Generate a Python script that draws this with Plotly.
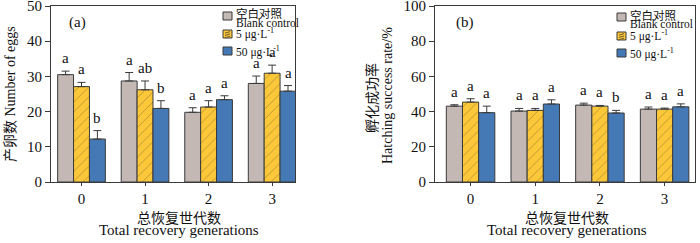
import plotly.graph_objects as go

generations = [0, 1, 2, 3]
tick_labels = ["0", "1", "2", "3"]
series_names = ["空白对照 Blank control", "5 μg·L<sup>-1</sup>", "50 μg·L<sup>-1</sup>"]
legend_lines = [["空白对照", "Blank control"], ["5 μg·L<sup>-1</sup>"], ["50 μg·L<sup>-1</sup>"]]

# Panel (a): number of eggs
eggs_control = [30.5, 28.7, 19.8, 28.0]
eggs_control_err = [1.0, 2.4, 1.3, 2.1]
eggs_5 = [27.1, 26.2, 21.3, 30.9]
eggs_5_err = [1.2, 2.5, 1.8, 2.3]
eggs_50 = [12.2, 20.9, 23.4, 25.8]
eggs_50_err = [2.4, 2.2, 1.1, 1.6]
eggs_letters_control = ["a", "a", "a", "a"]
eggs_letters_5 = ["a", "ab", "a", "a"]
eggs_letters_50 = ["b", "b", "a", "a"]

# Panel (b): hatching success rate
hatch_control = [43.1, 40.3, 43.7, 41.4]
hatch_control_err = [0.8, 1.5, 1.1, 1.2]
hatch_5 = [45.4, 40.7, 43.1, 41.4]
hatch_5_err = [1.9, 1.1, 0.4, 0.6]
hatch_50 = [39.4, 44.3, 39.2, 42.7]
hatch_50_err = [3.7, 2.4, 1.5, 1.7]
hatch_letters_control = ["a", "a", "a", "a"]
hatch_letters_5 = ["a", "a", "a", "a"]
hatch_letters_50 = ["a", "a", "b", "a"]

FONT = "Liberation Serif, Noto Sans CJK SC"
LINE = "#3a3a3a"
TXT = "#111"
colors = ["#c3b8b4", "#fcc83a", "#4479b6"]
HATCH = "#6b5a2a"

W, H = 700, 243
TOP, BOTTOM = 6, 182


def px(x):
    return x / W


def py(y):
    return (BOTTOM - y) / (BOTTOM - TOP)


fig = go.Figure()


def add_panel(vals, errs, letters, xa, ya):
    for j, (v, e) in enumerate(zip(vals, errs)):
        marker = dict(color=colors[j], line=dict(color=LINE, width=1))
        if j == 1:
            marker["pattern"] = dict(shape="/", fgcolor=HATCH, bgcolor=colors[j], size=7, solidity=0.12)
        fig.add_trace(go.Bar(
            x=generations, y=v, name=series_names[j], marker=marker, showlegend=False,
            error_y=dict(type="data", array=e, arrayminus=[0] * len(e), symmetric=False,
                         color=LINE, thickness=1, width=4),
            xaxis=xa, yaxis=ya, offsetgroup=str(j),
        ))
    for j, (v, e, let) in enumerate(zip(vals, errs, letters)):
        for i in range(len(generations)):
            fig.add_annotation(
                x=generations[i] + (j - 1) * 0.25, y=v[i] + e[i], text=let[i],
                xref=xa, yref=ya, yanchor="bottom", yshift=3, showarrow=False,
                font=dict(family=FONT, size=15, color=TXT),
            )


add_panel([eggs_control, eggs_5, eggs_50], [eggs_control_err, eggs_5_err, eggs_50_err],
          [eggs_letters_control, eggs_letters_5, eggs_letters_50], "x", "y")
add_panel([hatch_control, hatch_5, hatch_50], [hatch_control_err, hatch_5_err, hatch_50_err],
          [hatch_letters_control, hatch_letters_5, hatch_letters_50], "x2", "y2")

axis_common = dict(showline=True, mirror=True, linecolor=LINE, linewidth=1, showgrid=False,
                   zeroline=False, automargin=False, tickcolor=LINE, ticklabeloverflow="allow",
                   tickfont=dict(family=FONT, size=15, color=TXT))

fig.update_layout(
    width=W, height=H,
    margin=dict(l=0, r=0, t=TOP, b=H - BOTTOM),
    paper_bgcolor="white", plot_bgcolor="white",
    barmode="group", bargap=0.25, bargroupgap=0,
    showlegend=False,
    xaxis=dict(domain=[px(51), px(295)], range=[-0.48, 3.36], tickvals=generations,
               ticktext=tick_labels, ticks="outside", ticklen=3, anchor="y", **axis_common),
    yaxis=dict(domain=[0, 1], range=[0, 50], tickvals=[0, 10, 20, 30, 40, 50], ticks="outside",
               ticklen=5, anchor="x", **axis_common),
    xaxis2=dict(domain=[px(435), px(695)], range=[-0.55, 3.47], tickvals=generations,
                ticktext=tick_labels, ticks="outside", ticklen=3, anchor="y2", **axis_common),
    yaxis2=dict(domain=[0, 1], range=[0, 100], tickvals=[0, 20, 40, 60, 80, 100], ticks="outside",
                ticklen=5, anchor="x2", **axis_common),
)


def add_legend(x0, swatch_tops, text_centers):
    for j, (ytop, lines, yc) in enumerate(zip(swatch_tops, legend_lines, text_centers)):
        fig.add_shape(type="rect", xref="paper", yref="paper", x0=px(x0), x1=px(x0 + 9),
                      y0=py(ytop + 8), y1=py(ytop), fillcolor=colors[j],
                      line=dict(color=LINE, width=1))
        if j == 1:
            for k in range(3):
                yy = ytop + 2 + k * 2.3
                fig.add_shape(type="line", xref="paper", yref="paper", x0=px(x0 + 2), x1=px(x0 + 7),
                              y0=py(yy + 1.2), y1=py(yy - 0.4), line=dict(color=HATCH, width=1))
        for t, y in zip(lines, yc):
            fig.add_annotation(text=t, xref="paper", yref="paper", x=px(x0 + 11), y=py(y),
                               xanchor="left", yanchor="middle", showarrow=False,
                               font=dict(family=FONT, size=11.5, color=TXT))


add_legend(223, [12, 30, 47], [[13.5, 23], [33.5], [51.5]])
add_legend(617, [13, 32, 49], [[15, 24], [35], [53]])

# Panel labels
fig.add_annotation(text="(a)", xref="x domain", yref="y domain", x=0.066, y=py(23), xanchor="left",
                   yanchor="middle", showarrow=False, font=dict(family=FONT, size=15, color=TXT))
fig.add_annotation(text="(b)", xref="x2 domain", yref="y2 domain", x=0.073, y=py(23), xanchor="left",
                   yanchor="middle", showarrow=False, font=dict(family=FONT, size=15, color=TXT))

# Axis titles
fig.add_annotation(text="产卵数 Number of eggs", xref="paper", yref="paper", x=px(10), y=py(94),
                   textangle=-90, showarrow=False, xanchor="center", yanchor="middle",
                   font=dict(family=FONT, size=14, color=TXT))
fig.add_annotation(text="孵化成功率", xref="paper", yref="paper", x=px(372), y=py(98),
                   textangle=-90, showarrow=False, xanchor="center", yanchor="middle",
                   font=dict(family=FONT, size=14, color=TXT))
fig.add_annotation(text="Hatching success rate/%", xref="paper", yref="paper", x=px(387), y=py(96),
                   textangle=-90, showarrow=False, xanchor="center", yanchor="middle",
                   font=dict(family=FONT, size=14, color=TXT))
for cx in (179, 567):
    fig.add_annotation(text="总恢复世代数", xref="paper", yref="paper", x=px(cx), y=py(218),
                       showarrow=False, xanchor="center", yanchor="middle",
                       font=dict(family=FONT, size=14, color=TXT))
    fig.add_annotation(text="Total recovery generations", xref="paper", yref="paper", x=px(cx), y=py(230),
                       showarrow=False, xanchor="center", yanchor="middle",
                       font=dict(family=FONT, size=15, color=TXT))

fig.write_html("out.html", config={"displayModeBar": False},
               post_script="document.body.style.margin='0px';document.body.style.overflow='hidden';")
